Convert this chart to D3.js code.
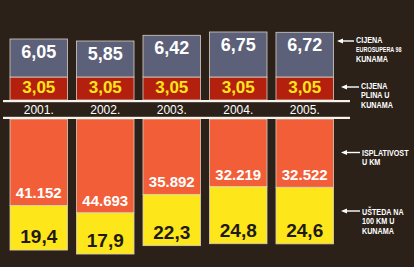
<!DOCTYPE html>
<html>
<head>
<meta charset="utf-8">
<script src="https://cdn.jsdelivr.net/npm/d3@7"></script>
<style>
  body { margin: 0; background: #2b2118; }
  svg { display: block; }
</style>
</head>
<body>
<script>
const w = 414;
const h = 267;

// data
const years = ["2001.", "2002.", "2003.", "2004.", "2005."];
const petrolPrice = [6.05, 5.85, 6.42, 6.75, 6.72];   // cijena eurosupera 98
const gasPrice = [3.05, 3.05, 3.05, 3.05, 3.05];      // cijena plina
const payoffKm = [41152, 44693, 35892, 32219, 32522]; // isplativost u km
const saving = [19.4, 17.9, 22.3, 24.8, 24.6];        // ušteda na 100 km
const legendTop = [["CIJENA", "EUROSUPERA 98", "KUNAMA"], ["CIJENA", "PLINA U", "KUNAMA"]];
const legendBottom = [["ISPLATIVOST", "U KM"], ["UŠTEDA NA", "100 KM U", "KUNAMA"]];

const colors = {
  bg: "#2b2118",
  petrol: "#5c6079",
  gas: "#b3200d",
  payoff: "#f25e37",
  saving: "#fde619",
  edge: "#d8cfc2"
};

const numFont = "'Liberation Sans', Arial, sans-serif";

const svg = d3.select("body").append("svg").attr("width", w).attr("height", h);
svg.append("rect").attr("width", w).attr("height", h).attr("fill", colors.bg);

const x = d3.scaleBand().domain(years).range([10, 333.5]).paddingInner(0.135);

// top section scales (infographic, petrol part not zero-based)
const base = 100;
const yGas = d3.scaleLinear().domain([0, 3.05]).range([base, 77]);
const yPetrol = d3.scaleLinear().domain([2.25, 7]).range([0, 47.5]);

// bottom section scales
const bottomTop = 119;
const hPayoff = d3.scaleLinear().domain([0, 45000]).range([0, 94.5]);
const hSaving = d3.scaleLinear().domain([0, 25]).range([0, 57.5]);

const fmtDec = v => d3.format(".2f")(v).replace(".", ",");
const fmtKm = v => d3.format(",")(v).replace(",", ".");
const fmtSave = v => d3.format(".1f")(v).replace(".", ",");

const bars = svg.selectAll("g.bar")
  .data(years.map((y, i) => ({ year: y, petrol: petrolPrice[i], gas: gasPrice[i], km: payoffKm[i], save: saving[i] })))
  .enter()
  .append("g")
  .attr("class", "bar");

// gas (red)
bars.append("rect")
  .attr("x", d => x(d.year))
  .attr("y", d => yGas(d.gas))
  .attr("width", x.bandwidth())
  .attr("height", d => base - yGas(d.gas))
  .attr("fill", colors.gas)
  .attr("stroke", colors.edge)
  .attr("stroke-width", 0.8);

// petrol (blue-grey)
bars.append("rect")
  .attr("x", d => x(d.year))
  .attr("y", d => yGas(d.gas) - yPetrol(d.petrol))
  .attr("width", x.bandwidth())
  .attr("height", d => yPetrol(d.petrol))
  .attr("fill", colors.petrol)
  .attr("stroke", colors.edge)
  .attr("stroke-width", 0.8);

bars.append("text")
  .attr("x", d => x(d.year) + x.bandwidth() / 2)
  .attr("y", d => yGas(d.gas) - yPetrol(d.petrol) + 18.5)
  .attr("text-anchor", "middle")
  .style("font-family", numFont)
  .style("font-weight", "bold")
  .style("font-size", "18px")
  .attr("fill", "#ffffff")
  .text(d => fmtDec(d.petrol));

bars.append("text")
  .attr("x", d => x(d.year) + x.bandwidth() / 2)
  .attr("y", d => yGas(d.gas) + 16)
  .attr("text-anchor", "middle")
  .style("font-family", numFont)
  .style("font-weight", "bold")
  .style("font-size", "17px")
  .attr("fill", "#ffe51a")
  .text(d => fmtDec(d.gas));

// payoff (orange)
bars.append("rect")
  .attr("x", d => x(d.year))
  .attr("y", bottomTop)
  .attr("width", x.bandwidth())
  .attr("height", d => hPayoff(d.km))
  .attr("fill", colors.payoff)
  .attr("stroke", colors.edge)
  .attr("stroke-width", 0.8);

// saving (yellow)
bars.append("rect")
  .attr("x", d => x(d.year))
  .attr("y", d => bottomTop + hPayoff(d.km))
  .attr("width", x.bandwidth())
  .attr("height", d => hSaving(d.save))
  .attr("fill", colors.saving)
  .attr("stroke", colors.edge)
  .attr("stroke-width", 0.8);

bars.append("text")
  .attr("x", d => x(d.year) + x.bandwidth() / 2)
  .attr("y", d => bottomTop + hPayoff(d.km) - 7)
  .attr("text-anchor", "middle")
  .style("font-family", numFont)
  .style("font-weight", "bold")
  .style("font-size", "15px")
  .attr("fill", "#ffffff")
  .text(d => fmtKm(d.km));

bars.append("text")
  .attr("x", d => x(d.year) + x.bandwidth() / 2)
  .attr("y", d => bottomTop + hPayoff(d.km) + hSaving(d.save) - 7)
  .attr("text-anchor", "middle")
  .style("font-family", numFont)
  .style("font-weight", "bold")
  .style("font-size", "19px")
  .attr("fill", "#1f1a16")
  .text(d => fmtSave(d.save));

// white rules and year labels
svg.append("rect").attr("x", 3).attr("y", 100).attr("width", 347).attr("height", 2.2).attr("fill", "#f6f2ec");
svg.append("rect").attr("x", 3).attr("y", 116.8).attr("width", 347).attr("height", 2.2).attr("fill", "#f6f2ec");

bars.append("text")
  .attr("x", d => x(d.year) + x.bandwidth() / 2)
  .attr("y", 114)
  .attr("text-anchor", "middle")
  .style("font-family", "'Liberation Sans', Arial, sans-serif")
  .style("font-size", "12px")
  .attr("fill", "#ffffff")
  .text(d => d.year);

// legend with arrows
const legend = [
  { lines: legendTop[0], ay: 41, x0: 337, x1: 354, tx: 356, ty: 43, small: 1 },
  { lines: legendTop[1], ay: 87, x0: 341, x1: 359, tx: 361, ty: 89, small: -1 },
  { lines: legendBottom[0], ay: 152.5, x0: 341, x1: 360, tx: 362, ty: 156, small: -1 },
  { lines: legendBottom[1], ay: 211, x0: 341, x1: 360, tx: 362, ty: 215, small: -1 }
];

legend.forEach(l => {
  svg.append("line")
    .attr("x1", l.x0 + 4).attr("x2", l.x1)
    .attr("y1", l.ay).attr("y2", l.ay)
    .attr("stroke", "#ffffff").attr("stroke-width", 1.4);
  svg.append("path")
    .attr("d", `M${l.x0},${l.ay} L${l.x0 + 6},${l.ay - 2.6} L${l.x0 + 6},${l.ay + 2.6} Z`)
    .attr("fill", "#ffffff");
  l.lines.forEach((t, i) => {
    svg.append("text")
      .attr("transform", `translate(${l.tx},${l.ty + i * 9.3}) scale(0.8,1)`)
      .style("font-family", numFont)
      .style("font-weight", "bold")
      .style("font-size", i === l.small ? "6.8px" : "9px")
      .attr("fill", "#ffffff")
      .text(t);
  });
});
</script>
</body>
</html>
